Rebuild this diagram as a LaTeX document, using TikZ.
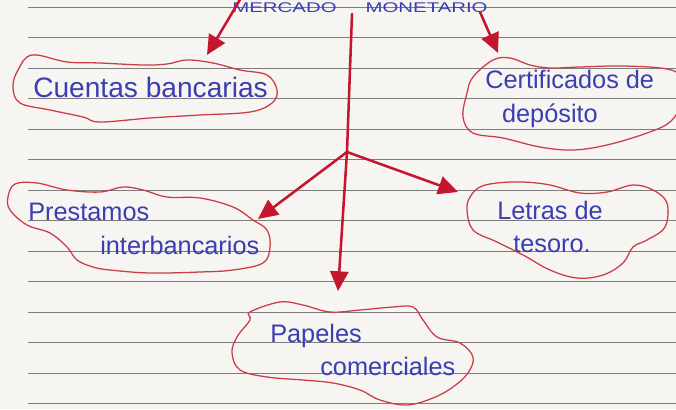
\documentclass[tikz,border=0pt]{standalone}
\usepackage{fontspec}
\usepackage{graphicx}
\setmainfont{Liberation Sans}
\usetikzlibrary{arrows.meta}
\definecolor{ink}{RGB}{58,62,178}
\definecolor{pen}{RGB}{196,22,44}
\definecolor{cloudred}{RGB}{204,60,70}
\definecolor{paper}{RGB}{246,245,242}
\definecolor{rulegray}{RGB}{125,125,125}
\tikzset{
  label text/.style={text=ink, font=\fontsize{18}{24}\selectfont, align=left, anchor=west, inner sep=0pt},
  cloud line/.style={draw=cloudred, line width=0.9pt},
  pen arrow/.style={draw=pen, line width=1.8pt, line cap=round, -{Triangle[length=14pt,width=13pt]}},
  pen line/.style={draw=pen, line width=1.8pt, line cap=round},
}
\begin{document}
\begin{tikzpicture}[x=0.025cm, y=-0.025cm]
    % Paper
    \fill[paper] (0,0) rectangle (676,409);
    \useasboundingbox (0,0) rectangle (676,409);
    \clip (0,0) rectangle (676,409);

    % Ruled lines
    \foreach \k in {0,...,13}
        \draw[rulegray, line width=0.7pt] (28, 7+30.5*\k) -- (676, 7+30.5*\k);

    % Title
    \node[text=ink, font=\fontsize{10}{12}\selectfont, anchor=base, inner sep=0pt] (title) at (360, 12)
        {\scalebox{1.45}[1]{MERCADO\hspace{0.5cm}MONETARIO}};

    % Clouds
    \draw[cloud line] plot[smooth cycle, tension=0.6] coordinates {
        (32,55) (67,62) (100,63) (143,65) (167,64) (187,60) (213,63) (240,70) (267,75)
        (277,90) (272,103) (250,112) (200,115) (150,118) (100,122) (83,117) (50,110)
        (20,103) (13,87) (18,70)};
    \draw[cloud line] plot[smooth cycle, tension=0.6] coordinates {
        (493,60) (510,58) (530,65) (550,68) (580,67) (623,66) (667,69) (680,78)
        (680,105) (670,122) (647,133) (607,145) (573,150) (540,147) (503,138) (473,133)
        (463,117) (467,93) (473,77)};
    \draw[cloud line] plot[smooth cycle, tension=0.6] coordinates {
        (37,183) (67,190) (100,192) (123,187) (143,190) (167,197) (200,198) (233,207)
        (253,220) (267,230) (270,247) (263,263) (233,270) (200,272) (150,273) (110,270)
        (93,267) (77,260) (67,247) (50,233) (27,225) (10,210) (8,197) (15,184)};
    \draw[cloud line] plot[smooth cycle, tension=0.6] coordinates {
        (480,187) (497,183) (523,182) (550,185) (580,193) (607,192) (633,185) (653,190)
        (667,203) (665,227) (647,240) (633,247) (623,263) (603,275) (577,278) (550,270)
        (523,255) (497,242) (473,230) (467,210) (470,197)};
    \draw[cloud line] plot[smooth cycle, tension=0.6] coordinates {
        (250,312) (280,302) (303,305) (330,312) (360,310) (393,307) (413,307) (423,320)
        (437,337) (460,343) (473,357) (468,373) (453,387) (433,398) (407,405) (380,400)
        (360,390) (333,383) (303,380) (267,377) (240,370) (232,353) (237,337) (250,320)};

    % Texts
    \node[label text, font=\fontsize{20}{24}\selectfont] (cuentas) at (33, 87) {Cuentas bancarias};
    \node[label text] (certif) at (485, 99) {Certificados de\\\hspace*{0.42cm}depósito};
    \node[label text] (prest) at (28, 229) {Prestamos\\\hspace*{1.8cm}interbancarios};
    \node[label text] (letras) at (497, 227) {Letras de\\\hspace*{0.4cm}tesoro.};
    \node[label text] (papeles) at (270, 350) {Papeles\\\hspace*{1.25cm}comerciales};

    % Arrow points
    \coordinate (srcA) at (241, -2);
    \coordinate (tipA) at (207, 55);
    \coordinate (srcB) at (480, 12);
    \coordinate (tipB) at (498, 53);
    \coordinate (stem) at (352, 14);
    \coordinate (hub) at (347, 152);
    \coordinate (tipC) at (338, 291);
    \coordinate (tipD) at (258, 219);
    \coordinate (tipE) at (458, 192);

    % Arrows
    \draw[pen arrow] (srcA) -- (tipA);
    \draw[pen arrow] (srcB) -- (tipB);
    \draw[pen line] (stem) -- (hub);
    \draw[pen arrow] (hub) -- (tipC);
    \draw[pen arrow] (hub) -- (tipD);
    \draw[pen arrow] (hub) -- (tipE);
\end{tikzpicture}
\end{document}
